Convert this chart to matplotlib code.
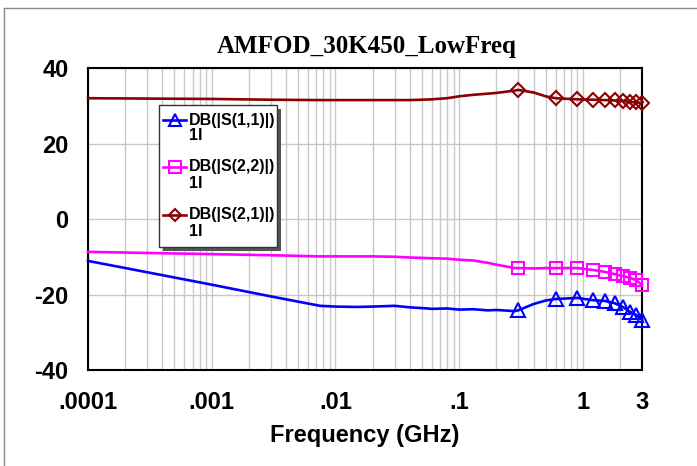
import numpy as np
import matplotlib
matplotlib.use("Agg")
import matplotlib.pyplot as plt
from matplotlib.lines import Line2D
from matplotlib.patches import Rectangle

# ---------------- data ----------------
freq = [1e-4, 3e-4, 1e-3, 3e-3, 7.5e-3, 0.01, 0.015, 0.02, 0.03, 0.04, 0.05,
        0.06, 0.08, 0.1, 0.13, 0.17, 0.2, 0.25, 0.28, 0.3, 0.4, 0.5, 0.6,
        0.9, 1.2, 1.5, 1.8, 2.1, 2.4, 2.7, 3.0]
s11 = [-11.1, -14.1, -17.4, -20.5, -23.0, -23.2, -23.3, -23.2, -23.0, -23.4,
       -23.6, -23.8, -23.7, -24.0, -23.9, -24.2, -24.1, -24.3, -24.4, -24.2,
       -22.5, -21.6, -21.2, -20.9, -21.5, -21.7, -22.3, -23.3, -24.6, -25.4,
       -26.7]
s22 = [-8.7, -9.0, -9.3, -9.6, -9.9, -9.9, -9.9, -9.9, -10.0, -10.2, -10.3,
       -10.4, -10.5, -10.8, -11.0, -11.6, -12.1, -12.7, -13.0, -13.0, -13.1,
       -13.0, -13.0, -13.0, -13.5, -14.0, -14.6, -15.1, -15.6, -16.2, -17.5]
s21 = [32.0, 31.9, 31.8, 31.6, 31.5, 31.5, 31.5, 31.5, 31.5, 31.5, 31.6,
       31.7, 32.0, 32.5, 32.9, 33.2, 33.4, 33.8, 34.0, 34.2, 33.5, 32.5, 32.0,
       31.7, 31.6, 31.5, 31.4, 31.3, 31.0, 30.9, 30.7]
marker_freqs = [0.3, 0.6, 0.9, 1.2, 1.5, 1.8, 2.1, 2.4, 2.7, 3.0]

series_names = ["DB(|S(1,1)|)", "DB(|S(2,2)|)", "DB(|S(2,1)|)"]
series_source = ["1I", "1I", "1I"]
series_colors = ["#0000FF", "#FF00FF", "#8B0000"]
series_markers = ["^", "s", "D"]
series_msize = [9.5, 9, 7]

xticks = [1e-4, 1e-3, 1e-2, 1e-1, 1, 3]
xticklabels = [".0001", ".001", ".01", ".1", "1", "3"]
yticks = [-40, -20, 0, 20, 40]
yticklabels = ["-40", "-20", "0", "20", "40"]

title = "AMFOD_30K450_LowFreq"
xlabel = "Frequency (GHz)"

# ---------------- figure ----------------
W, H = 697, 466
fig = plt.figure(figsize=(W / 100, H / 100), dpi=100)

def fx(px):
    return px / W

def fy(py):
    return 1 - py / H

left, right, top, bottom = 88, 642, 68, 370
ax = fig.add_axes([fx(left), fy(bottom), fx(right) - fx(left), fy(top) - fy(bottom)])

ax.set_xscale("log")
ax.set_xlim(1e-4, 3)
ax.set_ylim(-40, 40)

# grid
ax.set_xticks(xticks)
ax.set_xticklabels(xticklabels)
ax.xaxis.set_minor_locator(matplotlib.ticker.LogLocator(base=10, subs=np.arange(2, 10)))
ax.xaxis.set_minor_formatter(matplotlib.ticker.NullFormatter())
ax.set_yticks(yticks)
ax.set_yticklabels(yticklabels)
ax.grid(True, which="both", axis="x", color="#C8C8C8", lw=1.0)
ax.grid(True, which="major", axis="y", color="#C8C8C8", lw=1.0)
ax.set_axisbelow(True)
ax.tick_params(which="both", length=0)
ax.tick_params(axis="y", pad=14)
ax.tick_params(axis="x", pad=15)
for lab in ax.get_xticklabels() + ax.get_yticklabels():
    lab.set_fontfamily("Liberation Sans")
    lab.set_fontweight("bold")
    lab.set_fontsize(17)

for sp in ax.spines.values():
    sp.set_color("black")
    sp.set_linewidth(1.5)

freq_arr = np.array(freq)
mk_idx = [int(np.argmin(np.abs(freq_arr - m))) for m in marker_freqs]

for vals, c, m, ms in zip([s11, s22, s21], series_colors, series_markers, series_msize):
    ax.plot(freq, vals, color=c, lw=1.9, marker=m, markersize=ms,
            markerfacecolor="none", markeredgecolor=c, markeredgewidth=1.5,
            markevery=mk_idx, clip_on=False, zorder=3)

ax.set_xlabel(xlabel, fontfamily="Liberation Sans", fontweight="bold",
              fontsize=17, labelpad=7)
fig.text(fx(367), fy(47), title, fontfamily="Liberation Serif",
         fontweight="bold", fontsize=18, ha="center", va="center")

# ---------------- legend (manual) ----------------
lx0, lx1, ly0, ly1 = 159, 277, 105, 247
shadow = Rectangle((fx(lx0 + 4), fy(ly1 + 4)), fx(lx1) - fx(lx0), fy(ly0) - fy(ly1),
                   transform=fig.transFigure, facecolor="#555555", edgecolor="none",
                   zorder=10)
box = Rectangle((fx(lx0), fy(ly1)), fx(lx1) - fx(lx0), fy(ly0) - fy(ly1),
                transform=fig.transFigure, facecolor="white", edgecolor="#333333",
                lw=1.0, zorder=11)
fig.add_artist(shadow)
fig.add_artist(box)
entry_y = [120, 167, 215]
for name, src, c, m, ms, ey in zip(series_names, series_source, series_colors,
                                    series_markers, series_msize, entry_y):
    fig.add_artist(Line2D([fx(163), fx(186)], [fy(ey), fy(ey)], transform=fig.transFigure,
                          color=c, lw=1.9, zorder=12))
    fig.add_artist(Line2D([fx(174.5)], [fy(ey)], transform=fig.transFigure,
                          color=c, marker=m, markersize=ms * 0.9, markerfacecolor="none",
                          markeredgewidth=1.5, zorder=13))
    fig.text(fx(189), fy(ey), name, fontfamily="Liberation Sans", fontweight="bold",
             fontsize=11.5, ha="left", va="center", zorder=13)
    fig.text(fx(189), fy(ey + 16), src, fontfamily="Liberation Sans", fontweight="bold",
             fontsize=11.5, ha="left", va="center", zorder=13)

# outer frame (left and top edges)
fig.add_artist(Line2D([fx(4), fx(4)], [fy(8), 0], transform=fig.transFigure,
                      color="#888888", lw=1.0))
fig.add_artist(Line2D([fx(4), 1], [fy(8), fy(8)], transform=fig.transFigure,
                      color="#888888", lw=1.0))

fig.savefig("out.png", dpi=100)
